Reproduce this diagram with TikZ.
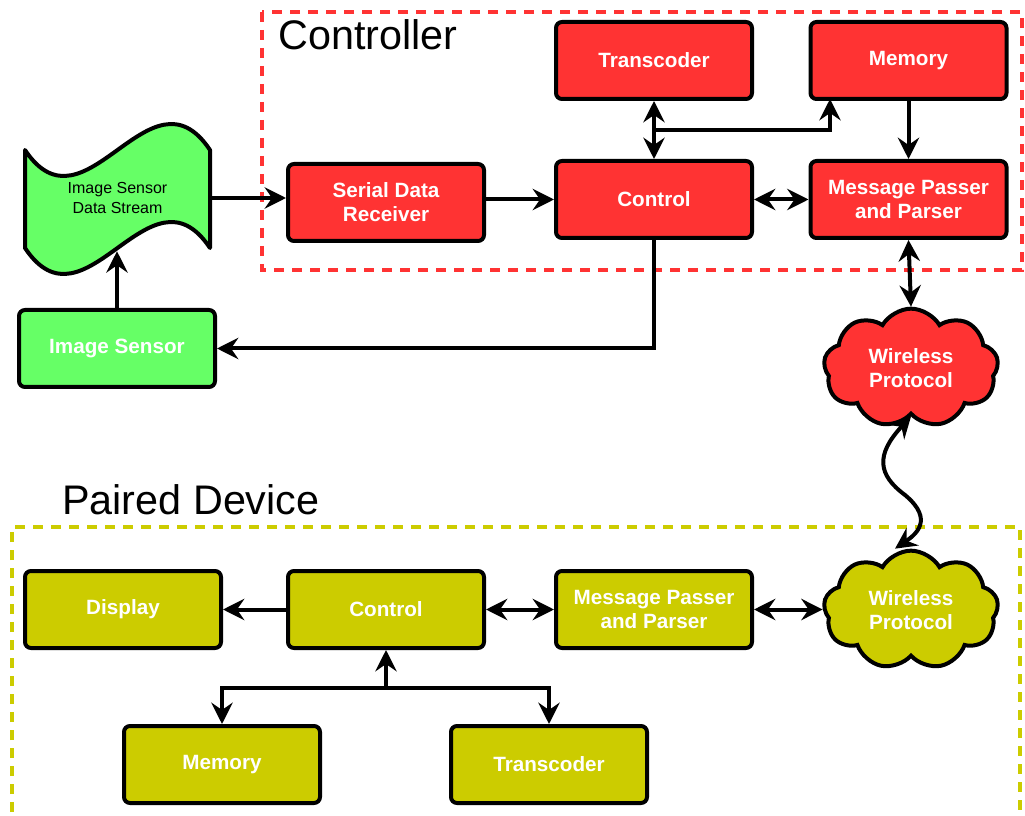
\documentclass[tikz,border=0pt]{standalone}
\usepackage{fontspec}
\setmainfont{Liberation Sans}
\usetikzlibrary{arrows.meta,shapes.symbols,calc}
\definecolor{cred}{HTML}{FF3333}
\definecolor{cgreen}{HTML}{66FF66}
\definecolor{cyel}{HTML}{CCCC00}
\begin{document}
\begin{tikzpicture}[x=0.75pt,y=-0.75pt,
  box/.style={rounded corners=4.5pt, draw=black, line width=3pt, minimum width=147pt, minimum height=57.75pt, inner sep=2pt, font=\bfseries\fontsize{15.5}{18}\selectfont, text=white, align=center},
  redbox/.style={box, fill=cred},
  greenbox/.style={box, fill=cgreen},
  yelbox/.style={box, fill=cyel},
  cloudnode/.style={cloud, cloud puffs=9, cloud puff arc=120, aspect=1.45, draw=black, line width=3pt, minimum width=131pt, minimum height=89pt, inner sep=0pt, font=\bfseries\fontsize{15.5}{18}\selectfont, text=white, align=center},
  arr/.style={-{Stealth[length=16pt,width=16pt,inset=5.5pt]}, line width=3pt},
  dbl/.style={{Stealth[length=16pt,width=16pt,inset=5.5pt]}-{Stealth[length=16pt,width=16pt,inset=5.5pt]}, line width=3pt},
  group/.style={dash pattern=on 7.5pt off 6pt, line width=3pt},
  title/.style={font=\fontsize{31}{37}\selectfont, anchor=west, inner sep=0pt}
]
\useasboundingbox (0,0) rectangle (1025,816);

% group frames
\draw[group, draw=cred] (262,12) rectangle (1022,270);
\draw[group, draw=cyel] (12,830) -- (12,527) -- (1020,527) -- (1020,830);
\node[title] (tctrl) at (278,35) {Controller};
\node[title] (tpair) at (62,500) {Paired Device};

% tape shape
\fill[cgreen, draw=black, line width=3pt, line join=round]
  (25,150) .. controls (85,240) and (150,60) .. (210,150)
  -- (210,248) .. controls (150,158) and (85,338) .. (25,248) -- cycle;
\node[minimum width=138.75pt, minimum height=79.5pt, inner sep=0pt, align=center, font=\fontsize{12}{15}\selectfont] (tape) at (117.5,198) {Image Sensor\\Data Stream};

% controller nodes
\node[redbox] (trans) at (654,60.5) {Transcoder};
\node[redbox] (mem) at (908.5,60.5) {Memory};
\node[redbox] (serial) at (386,202.5) {Serial Data\\Receiver};
\node[redbox] (ctrl) at (654,199.5) {Control};
\node[redbox] (mpp) at (908.5,199.5) {Message Passer\\and Parser};
\node[greenbox] (imgs) at (117,348.5) {Image Sensor};
\node[cloudnode, fill=cred] (cloud) at (911,368) {Wireless\\Protocol};

% paired nodes
\node[yelbox] (disp) at (123,609.5) {Display};
\node[yelbox] (pctrl) at (386,609.5) {Control};
\node[yelbox] (pmpp) at (654,609.5) {Message Passer\\and Parser};
\node[cloudnode, fill=cyel] (pcloud) at (911,610) {Wireless\\Protocol};
\node[yelbox] (pmem) at (222,764.5) {Memory};
\node[yelbox] (ptrans) at (549,764.5) {Transcoder};

% controller connectors
\draw[arr] (tape.east) -- (tape.east -| serial.west);
\draw[arr] (imgs.north) -- (imgs.north |- tape.south);
\draw[arr] (serial.east |- ctrl.west) -- (ctrl.west);
\draw[dbl] (ctrl.east) -- (mpp.west);
\draw[dbl] (trans.south) -- (ctrl.north);
\coordinate (br) at (654,130);
\coordinate (memin) at (830,99);
\draw[arr] (br) -| (memin);
\draw[arr] (mem.south) -- (mpp.north);
\draw[dbl] (mpp.south) -- (cloud.north);
\draw[arr] (ctrl.south) |- (imgs.east);
\coordinate (wm) at (905,495);
\draw[dbl] (cloud.south) .. controls (875,455) and (878,475) .. (wm) .. controls (935,520) and (915,535) .. ([xshift=-12pt]pcloud.north);

% paired connectors
\draw[arr] (pctrl.west) -- (disp.east);
\draw[dbl] (pctrl.east) -- (pmpp.west);
\draw[dbl] (pmpp.east) -- (pcloud.west |- pmpp.east);
\coordinate (pj) at (386,688);
\draw[arr] (pj) -- (pctrl.south);
\draw[arr] (pj) -| (pmem.north);
\draw[arr] (pj) -| (ptrans.north);
\end{tikzpicture}
\end{document}
